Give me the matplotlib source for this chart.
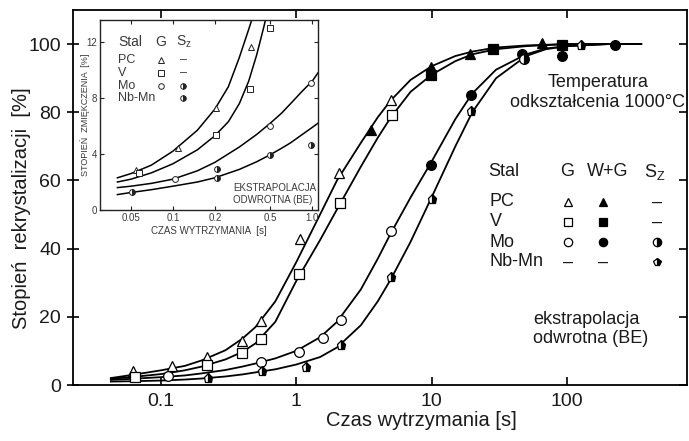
import matplotlib
matplotlib.use("Agg")
import matplotlib.pyplot as plt

plt.rcParams['font.family'] = ['Liberation Sans', 'DejaVu Sans']
plt.rcParams['mathtext.fontset'] = 'custom'
plt.rcParams['mathtext.rm'] = 'Liberation Sans'
plt.rcParams['mathtext.it'] = 'Liberation Sans'

# ---------------- main chart data ----------------
x_ticks = [0.1, 1, 10, 100]
x_tick_labels = ['0.1', '1', '10', '100']
y_ticks = [0, 20, 40, 60, 80, 100]

curve_t = [0.042, 0.06, 0.1, 0.15, 0.2, 0.3, 0.4, 0.5, 0.7, 1.0, 1.5, 2, 3, 4, 5, 7,
           10, 15, 20, 30, 50, 70, 100, 200, 360]
curve_pc = [2.0, 2.9, 4.3, 5.6, 7.2, 10.2, 13.6, 17.0, 24.5, 36.0, 50.0, 60.0, 71.0,
            78.5, 83.5, 89.5, 93.5, 96.5, 97.8, 99.0, 99.6, 99.8, 100, 100, 100]
curve_v = [1.8, 2.3, 3.2, 4.3, 5.4, 7.5, 9.7, 12.2, 18.5, 30.5, 42.5, 51.5, 64.0,
           72.5, 78.5, 86.0, 91.0, 95.0, 97.0, 98.5, 99.4, 99.7, 100, 100, 100]
curve_mo = [1.5, 1.8, 2.3, 2.8, 3.4, 4.4, 5.4, 6.3, 7.8, 10.0, 14.0, 18.5, 28.0,
            37.0, 44.5, 55.0, 65.5, 78.0, 85.5, 92.5, 97.0, 98.7, 99.4, 100, 100]
curve_nbmn = [1.0, 1.1, 1.3, 1.6, 1.9, 2.5, 3.1, 3.7, 4.6, 6.0, 8.2, 11.0, 17.5,
              24.5, 31.0, 42.0, 55.0, 70.0, 80.0, 90.0, 96.5, 98.5, 99.4, 100, 100]

pc_g_t = [0.0618, 0.12, 0.22, 0.40, 0.546, 1.07, 2.08, 5.01]
pc_g_y = [4.2, 5.6, 8.3, 13.0, 18.8, 42.7, 62.2, 83.7]
pc_wg_t = [3.55, 9.85, 19.2, 65.0]
pc_wg_y = [74.7, 93.4, 97.1, 100.2]

v_g_t = [0.0643, 0.22, 0.40, 0.546, 1.055, 2.1, 5.07]
v_g_y = [2.4, 5.9, 9.5, 13.4, 32.7, 53.4, 79.3]
v_wg_t = [9.85, 28.3, 92.0]
v_wg_y = [90.8, 98.5, 99.7]

mo_g_t = [0.113, 0.548, 1.055, 1.58, 2.13, 5.0]
mo_g_y = [2.7, 6.8, 9.8, 13.9, 19.2, 45.2]
mo_wg_t = [9.87, 19.5, 46.4, 92.0, 226.0]
mo_wg_y = [64.5, 85.1, 97.1, 96.6, 99.6]
mo_sz_t = [48.5]
mo_sz_y = [95.5]

nbmn_sz_t = [0.224, 0.556, 1.18, 2.13, 5.0, 10.0, 19.5, 128.0]
nbmn_sz_y = [2.2, 4.2, 5.4, 11.7, 31.7, 54.7, 80.5, 99.6]

# ---------------- inset data ----------------
in_x_ticks = [0.05, 0.1, 0.2, 0.5, 1.0]
in_x_tick_labels = ['0.05', '0.1', '0.2', '0.5', '1.0']
in_y_ticks = [0, 4, 8, 12]

in_pc_t = [0.04, 0.05, 0.07, 0.1, 0.15, 0.2, 0.25, 0.3, 0.35, 0.38]
in_pc_c = [2.3, 2.6, 3.2, 4.2, 5.7, 7.2, 8.8, 10.9, 12.9, 14.0]
in_v_t = [0.04, 0.05, 0.07, 0.1, 0.15, 0.2, 0.25, 0.3, 0.35, 0.4, 0.45, 0.48]
in_v_c = [2.0, 2.2, 2.65, 3.3, 4.3, 5.3, 6.3, 7.6, 9.2, 11.1, 13.1, 14.3]
in_mo_t = [0.04, 0.05, 0.07, 0.1, 0.15, 0.2, 0.3, 0.4, 0.5, 0.6, 0.7, 0.85, 1.0, 1.1]
in_mo_c = [1.6, 1.7, 1.9, 2.2, 2.8, 3.4, 4.5, 5.4, 6.2, 6.9, 7.6, 8.5, 9.2, 9.8]
in_lo_t = [0.04, 0.05, 0.07, 0.1, 0.15, 0.2, 0.3, 0.4, 0.5, 0.6, 0.7, 0.85, 1.0, 1.1]
in_lo_c = [1.1, 1.25, 1.45, 1.7, 2.0, 2.3, 2.9, 3.45, 3.95, 4.4, 4.8, 5.4, 5.9, 6.2]

in_pc_x = [0.0545, 0.108, 0.203, 0.361]
in_pc_y = [2.86, 4.4, 7.26, 11.66]
in_v_x = [0.0574, 0.203, 0.355, 0.495]
in_v_y = [2.66, 5.36, 8.62, 12.98]
in_mo_x = [0.104, 0.495, 0.979]
in_mo_y = [2.21, 6.02, 9.05]
in_mosz_x = [0.208, 0.979]
in_mosz_y = [2.9, 4.64]
in_nbsz_x = [0.051, 0.206, 0.495]
in_nbsz_y = [1.31, 2.26, 3.9]

TXT = '#1a1a1a'
GRY = '#3a3a3a'

fig = plt.figure(figsize=(6.89, 4.41), dpi=100)
ax = fig.add_axes([73/689, 1-385/441, 614/689, 375/441])
ax.set_xscale('log')
ax.set_xlim(0.0224, 773)
ax.set_ylim(0, 110)

lw = 1.3
for cy in (curve_pc, curve_v, curve_mo, curve_nbmn):
    ax.plot(curve_t, cy, color='black', lw=lw, zorder=2, solid_capstyle='butt')

ms = 7
mew = 0.9
def mk(t, y, m, fill, size=ms, **kw):
    ax.plot(t, y, ls='none', marker=m, markersize=size, markeredgecolor='black',
            markerfacecolor=fill, markeredgewidth=mew, zorder=3, **kw)

mk(pc_g_t, pc_g_y, '^', 'white')
mk(pc_wg_t, pc_wg_y, '^', 'black')
mk(v_g_t, v_g_y, 's', 'white', size=6.5)
mk(v_wg_t, v_wg_y, 's', 'black', size=6.5)
mk(mo_g_t, mo_g_y, 'o', 'white')
mk(mo_wg_t, mo_wg_y, 'o', 'black')
mk(mo_sz_t, mo_sz_y, 'o', 'black', fillstyle='right', markerfacecoloralt='white')
mk(nbmn_sz_t, nbmn_sz_y, 'p', 'black', size=6.5, fillstyle='right', markerfacecoloralt='white')

ax.set_xticks(x_ticks)
ax.set_xticklabels(x_tick_labels)
ax.xaxis.set_minor_locator(matplotlib.ticker.NullLocator())
ax.set_yticks(y_ticks)
for s in ax.spines.values():
    s.set_linewidth(1.3)
ax.tick_params(axis='x', direction='in', top=True, length=6, width=1.2,
               labelsize=14, pad=6, labelcolor=TXT)
ax.tick_params(axis='y', direction='inout', length=9, width=1.2,
               labelsize=14, pad=4, labelcolor=TXT)
axr = ax.twinx()
axr.set_ylim(0, 110)
axr.set_yticks(y_ticks)
axr.tick_params(axis='y', direction='in', length=6, width=1.2, labelright=False)
for s in axr.spines.values():
    s.set_visible(False)

fig.text(421/689, 1-421/441, 'Czas wytrzymania [s]', ha='center', va='center',
         fontsize=14.5, color=TXT)
fig.text(22/689, 1-208/441, 'Stopień  rekrystalizacji  [%]', ha='center', va='center',
         rotation=90, fontsize=14.5, color=TXT)

ax.text(0.855, 0.78, 'Temperatura\nodkształcenia 1000°C', transform=ax.transAxes,
        ha='center', va='center', fontsize=13, color=TXT, linespacing=1.2)
ax.text(0.749, 0.149, 'ekstrapolacja\nodwrotna (BE)', transform=ax.transAxes,
        ha='left', va='center', fontsize=13, color=TXT, linespacing=1.2)

# main legend (table)
fs = 13
hy = 0.568
ax.text(0.676, hy, 'Stal', transform=ax.transAxes, ha='left', va='center', fontsize=fs, color=TXT)
ax.text(0.805, hy, 'G', transform=ax.transAxes, ha='center', va='center', fontsize=fs, color=TXT)
ax.text(0.870, hy, 'W+G', transform=ax.transAxes, ha='center', va='center', fontsize=fs, color=TXT)
ax.text(0.948, hy, r'S$_\mathrm{Z}$', transform=ax.transAxes, ha='center', va='center', fontsize=fs, color=TXT)
rows = ['PC', 'V', 'Mo', 'Nb-Mn']
row_y = [0.488, 0.435, 0.381, 0.328]
cols = [0.806, 0.863, 0.951]
keys = [
    [('^', 'white', None), ('^', 'black', None), None],
    [('s', 'white', None), ('s', 'black', None), None],
    [('o', 'white', None), ('o', 'black', None), ('o', 'black', 'right')],
    [None, None, ('p', 'black', 'right')],
]
for name, yy, krow in zip(rows, row_y, keys):
    ax.text(0.679, yy, name, transform=ax.transAxes, ha='left', va='center', fontsize=fs, color=TXT)
    for cx, k in zip(cols, krow):
        if k is None:
            ax.text(cx, yy, '–', transform=ax.transAxes, ha='center', va='center',
                    fontsize=fs, color=TXT)
        else:
            m, fc, fsty = k
            kw = dict(fillstyle=fsty, markerfacecoloralt='white') if fsty else {}
            ax.plot([cx], [yy], transform=ax.transAxes, ls='none', marker=m, markersize=6,
                    markerfacecolor=fc, markeredgecolor='black', markeredgewidth=mew,
                    clip_on=False, **kw)

# ---------------- inset ----------------
ia = fig.add_axes([100/689, 1-210/441, 218/689, 190/441])
ia.set_facecolor('white')
ia.set_xscale('log')
ia.set_xlim(0.03, 1.1)
ia.set_ylim(0, 13.57)
for cx_, cy_ in ((in_pc_t, in_pc_c), (in_v_t, in_v_c), (in_mo_t, in_mo_c), (in_lo_t, in_lo_c)):
    ia.plot(cx_, cy_, color='black', lw=1.1, zorder=2)
ims = 4.2
def imk(x, y, m, fill, **kw):
    ia.plot(x, y, ls='none', marker=m, markersize=ims, markeredgecolor='#222222',
            markerfacecolor=fill, markeredgewidth=0.7, zorder=3, **kw)
imk(in_pc_x, in_pc_y, '^', 'white')
imk(in_v_x, in_v_y, 's', 'white')
imk(in_mo_x, in_mo_y, 'o', 'white')
imk(in_mosz_x, in_mosz_y, 'o', '#222222', fillstyle='right', markerfacecoloralt='white')
imk(in_nbsz_x, in_nbsz_y, 'o', '#222222', fillstyle='right', markerfacecoloralt='white')

ia.set_xticks(in_x_ticks)
ia.set_xticklabels(in_x_tick_labels)
ia.xaxis.set_minor_locator(matplotlib.ticker.NullLocator())
ia.set_yticks(in_y_ticks)
for s in ia.spines.values():
    s.set_linewidth(1.0)
    s.set_color('#222222')
ia.tick_params(direction='in', top=True, right=True, length=3, width=0.8,
               labelsize=7, pad=2, labelcolor=GRY, color='#222222')
ia.set_xlabel('CZAS WYTRZYMANIA  [s]', fontsize=7, color=GRY, labelpad=2)
ia.set_ylabel('STOPIEŃ  ZMIĘKCZENIA  [%]', fontsize=6.5, color=GRY, labelpad=0)
ia.yaxis.set_label_coords(-0.046, 0.5)

ifs = 9
ia.text(0.083, 0.884, 'Stal', transform=ia.transAxes, ha='left', va='center', fontsize=10, color=GRY)
ia.text(0.28, 0.884, 'G', transform=ia.transAxes, ha='center', va='center', fontsize=10, color=GRY)
ia.text(0.385, 0.884, r'S$_\mathrm{z}$', transform=ia.transAxes, ha='center', va='center', fontsize=10, color=GRY)
irow_y = [0.789, 0.721, 0.653, 0.589]
icols = [0.28, 0.381]
ikeys = [
    [('^', 'white', None), None],
    [('s', 'white', None), None],
    [('o', 'white', None), ('o', '#222222', 'right')],
    [None, ('o', '#222222', 'right')],
]
for name, yy, krow in zip(rows, irow_y, ikeys):
    ia.text(0.083, yy, name, transform=ia.transAxes, ha='left', va='center', fontsize=ifs, color=GRY)
    for j, (cx, k) in enumerate(zip(icols, krow)):
        if k is None:
            if name == 'Nb-Mn' and j == 0:
                continue
            ia.text(cx, yy, '–', transform=ia.transAxes, ha='center', va='center',
                    fontsize=ifs, color=GRY)
        else:
            m, fc, fsty = k
            kw = dict(fillstyle=fsty, markerfacecoloralt='white') if fsty else {}
            ia.plot([cx], [yy], transform=ia.transAxes, ls='none', marker=m, markersize=4,
                    markerfacecolor=fc, markeredgecolor='#222222', markeredgewidth=0.7, **kw)

ia.text(0.61, 0.084, 'EKSTRAPOLACJA\nODWROTNA (BE)', transform=ia.transAxes,
        ha='left', va='center', fontsize=7, color=GRY, linespacing=1.25)

fig.savefig('out.png', dpi=100)
